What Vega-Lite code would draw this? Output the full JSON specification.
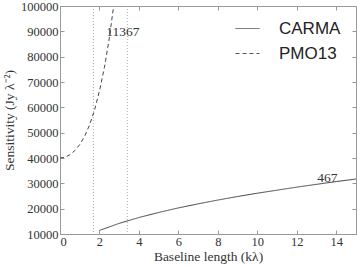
{
  "$schema": "https://vega.github.io/schema/vega-lite/v6.json",
  "autosize": "none",
  "width": 296,
  "height": 228,
  "padding": {"left": 60, "top": 6, "right": 1, "bottom": 33},
  "background": "white",
  "config": {
    "view": {"stroke": "#999", "strokeWidth": 1},
    "axis": {
      "labelFont": "Liberation Serif",
      "titleFont": "Liberation Serif",
      "labelFontSize": 12.5,
      "titleFontSize": 13.5,
      "titleFontWeight": "normal",
      "labelColor": "#333",
      "titleColor": "#333",
      "grid": false,
      "domain": false,
      "tickColor": "#999",
      "tickSize": -4,
      "labelPadding": 6,
      "format": "d"
    }
  },
  "datasets": {
    "curves": [
      {"x": 0, "y": 40000, "series": "PMO13"},
      {"x": 0.25, "y": 40300, "series": "PMO13"},
      {"x": 0.5, "y": 41300, "series": "PMO13"},
      {"x": 0.75, "y": 42900, "series": "PMO13"},
      {"x": 1.0, "y": 45300, "series": "PMO13"},
      {"x": 1.25, "y": 48600, "series": "PMO13"},
      {"x": 1.5, "y": 53100, "series": "PMO13"},
      {"x": 1.75, "y": 58900, "series": "PMO13"},
      {"x": 2.0, "y": 66500, "series": "PMO13"},
      {"x": 2.25, "y": 75700, "series": "PMO13"},
      {"x": 2.5, "y": 87300, "series": "PMO13"},
      {"x": 2.7, "y": 99000, "series": "PMO13"},
      {"x": 2, "y": 11400, "series": "CARMA"},
      {"x": 3, "y": 14200, "series": "CARMA"},
      {"x": 4, "y": 16500, "series": "CARMA"},
      {"x": 5, "y": 18500, "series": "CARMA"},
      {"x": 6, "y": 20300, "series": "CARMA"},
      {"x": 7, "y": 21900, "series": "CARMA"},
      {"x": 8, "y": 23400, "series": "CARMA"},
      {"x": 9, "y": 24800, "series": "CARMA"},
      {"x": 10, "y": 26100, "series": "CARMA"},
      {"x": 11, "y": 27300, "series": "CARMA"},
      {"x": 12, "y": 28500, "series": "CARMA"},
      {"x": 13, "y": 29600, "series": "CARMA"},
      {"x": 14, "y": 30700, "series": "CARMA"},
      {"x": 15, "y": 31700, "series": "CARMA"}
    ],
    "vlines": [{"x": 1.69}, {"x": 3.41}],
    "labels": [
      {"x": 3.18, "y": 89900, "label": "11367"},
      {"x": 13.55, "y": 32000, "label": "467"}
    ]
  },
  "layer": [
    {
      "data": {"name": "vlines"},
      "mark": {"type": "rule", "color": "#aaa", "strokeWidth": 1, "strokeDash": [1, 2]},
      "encoding": {
        "x": {"field": "x", "type": "quantitative", "scale": {"domain": [0, 15]}, "axis": null}
      }
    },
    {
      "data": {"name": "curves"},
      "mark": {"type": "line", "color": "#444", "strokeWidth": 1, "clip": true},
      "encoding": {
        "x": {"field": "x", "type": "quantitative", "scale": {"domain": [0, 15], "nice": false},
          "axis": {"title": "Baseline length (kλ)", "values": [0, 2, 4, 6, 8, 10, 12, 14], "titlePadding": 2, "labelPadding": 5, "labelFont": "Liberation Serif", "format": "d"}},
        "y": {"field": "y", "type": "quantitative", "scale": {"domain": [10000, 100000], "nice": false},
          "axis": {"title": "Sensitivity (Jy λ⁻²)", "values": [10000, 20000, 30000, 40000, 50000, 60000, 70000, 80000, 90000, 100000], "titlePadding": 4, "labelPadding": 6, "labelFont": "Liberation Serif", "format": "d"}},
        "strokeDash": {
          "field": "series", "type": "nominal",
          "scale": {"domain": ["CARMA", "PMO13"], "range": [[1, 0], [4, 3]]},
          "legend": {
            "title": null,
            "orient": "none",
            "legendX": 175,
            "legendY": 10,
            "symbolType": "stroke",
            "symbolSize": 576,
            "symbolStrokeColor": "#555",
            "symbolStrokeWidth": 1,
            "labelFont": "Liberation Sans",
            "labelFontSize": 17,
            "labelColor": "#222",
            "labelOffset": 19,
            "rowPadding": 4
          }
        }
      }
    },
    {
      "data": {"name": "labels"},
      "mark": {"type": "text", "font": "Liberation Serif", "fontSize": 13.5, "color": "#333"},
      "encoding": {
        "x": {"field": "x", "type": "quantitative",
          "axis": {"orient": "top", "labels": false, "title": null, "values": [0, 2, 4, 6, 8, 10, 12, 14]}},
        "y": {"field": "y", "type": "quantitative",
          "axis": {"orient": "right", "labels": false, "title": null, "values": [10000, 20000, 30000, 40000, 50000, 60000, 70000, 80000, 90000, 100000]}},
        "text": {"field": "label", "type": "nominal"}
      }
    }
  ],
  "resolve": {"axis": {"x": "independent", "y": "independent"}}
}
